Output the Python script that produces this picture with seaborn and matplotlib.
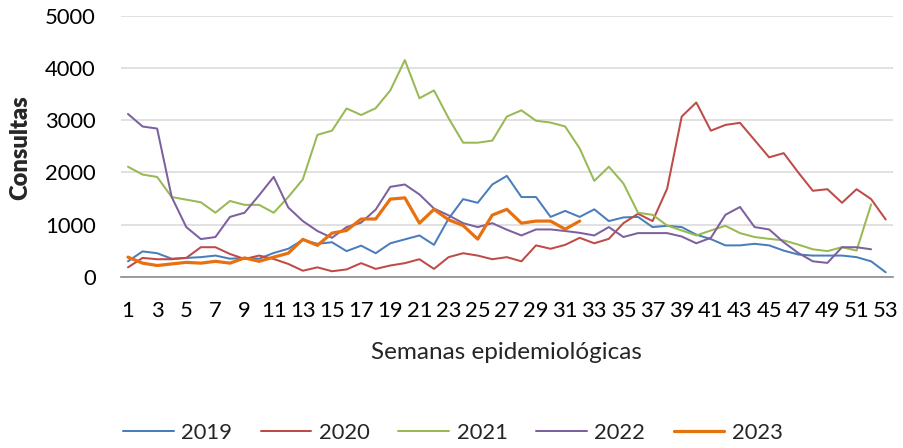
import numpy as np
import pandas as pd
import matplotlib
matplotlib.use("Agg")
import matplotlib.pyplot as plt
import seaborn as sns

nan = np.nan

weeks = list(range(1, 54))
years = ["2019", "2020", "2021", "2022", "2023"]

y2019 = [300, 490, 455, 350, 365, 380, 410, 350, 365, 350,
         460, 540, 710, 635, 665, 495, 600, 455, 645, 720,
         795, 615, 1115, 1490, 1420, 1770, 1935, 1530, 1530, 1150,
         1265, 1150, 1295, 1070, 1140, 1150, 955, 980, 955, 810,
         725, 605, 605, 635, 605, 505, 430, 410, 410, 410,
         380, 300, 90]
y2020 = [185, 365, 340, 340, 365, 570, 570, 440, 345, 410,
         345, 250, 120, 185, 110, 145, 265, 155, 220, 265,
         340, 155, 380, 455, 410, 340, 380, 300, 605, 540,
         615, 750, 645, 730, 1030, 1210, 1070, 1690, 3070, 3340,
         2800, 2910, 2950, 2620, 2290, 2370, 2000, 1650, 1680, 1420,
         1680, 1490, 1100]
y2021 = [2110, 1960, 1915, 1530, 1480, 1430, 1230, 1455, 1380, 1380,
         1230, 1530, 1870, 2720, 2800, 3225, 3100, 3230, 3570, 4150,
         3420, 3570, 3040, 2570, 2570, 2610, 3070, 3190, 2990, 2955,
         2880, 2460, 1840, 2110, 1790, 1230, 1190, 985, 890, 795,
         890, 980, 840, 765, 730, 700, 620, 530, 495, 570,
         505, 1390, nan]
y2022 = [3120, 2880, 2840, 1530, 955, 725, 765, 1150, 1230, 1565,
         1915, 1330, 1070, 880, 750, 955, 1040, 1290, 1725, 1770,
         1580, 1310, 1180, 1030, 955, 1030, 905, 795, 910, 910,
         880, 845, 795, 955, 765, 840, 840, 840, 775, 645,
         750, 1190, 1340, 955, 910, 665, 460, 300, 270, 570,
         570, 530, nan]
y2023 = [380, 265, 220, 250, 280, 265, 300, 265, 365, 300,
         380, 455, 720, 605, 840, 890, 1110, 1110, 1490, 1515,
         1030, 1295, 1095, 985, 725, 1185, 1295, 1030, 1070, 1070,
         915, 1070] + [nan] * 21

series = {"2019": y2019, "2020": y2020, "2021": y2021, "2022": y2022, "2023": y2023}
df = pd.DataFrame({
    "Semana": weeks * len(years),
    "Año": [y for y in years for _ in weeks],
    "Consultas": [v for y in years for v in series[y]],
})

colors = {"2019": "#4A7EBB", "2020": "#BE4B48", "2021": "#98B954",
          "2022": "#7D60A0", "2023": "#E8700F"}
widths = {"2019": 1.45, "2020": 1.45, "2021": 1.45, "2022": 1.45, "2023": 2.3}

sns.set_style("white")
plt.rcParams["font.family"] = ["Lato", "DejaVu Sans"]

fig = plt.figure(figsize=(9.04, 4.48), dpi=100)
ax = fig.add_axes([120.7 / 904, 1 - 277 / 448, 772.3 / 904, 261.3 / 448])

for y in years:
    sub = df[df["Año"] == y].dropna()
    sns.lineplot(data=sub, x="Semana", y="Consultas", ax=ax, color=colors[y],
                 linewidth=widths[y], label=y, errorbar=None, sort=False)

ax.set_xlim(0.5, 53.5)
ax.set_ylim(0, 5000)
ax.set_xticks(range(1, 54, 2))
ax.set_yticks(range(0, 5001, 1000))
ax.grid(axis="y", color="#d9d9d9", linewidth=1.1)
ax.grid(axis="x", visible=False)
ax.set_axisbelow(True)
for s in ["top", "right", "left"]:
    ax.spines[s].set_visible(False)
ax.spines["bottom"].set_color("#8c8c8c")
ax.spines["bottom"].set_linewidth(1.2)
ax.tick_params(axis="both", length=0, labelsize=15.8, colors="#000000")
ax.tick_params(axis="x", pad=17)
ax.tick_params(axis="y", pad=18)

ax.set_xlabel("Semanas epidemiológicas", fontsize=17.5, va="center")
ax.xaxis.set_label_coords(0.5, (277 - 352) / 261.3)
ax.set_ylabel("Consultas", fontsize=17, fontweight="heavy", va="center")
ax.yaxis.set_label_coords((20 - 120.7) / 772.3, (277 - 148) / 261.3)

handles, labels = ax.get_legend_handles_labels()
if ax.get_legend() is not None:
    ax.get_legend().remove()
fig.legend(handles, labels, loc="center", bbox_to_anchor=(453 / 904, 1 - 433 / 448),
           ncol=5, frameon=False, fontsize=15.8, handlelength=2.3,
           handletextpad=0.35, columnspacing=1.3)

fig.savefig("out.png", dpi=100)
